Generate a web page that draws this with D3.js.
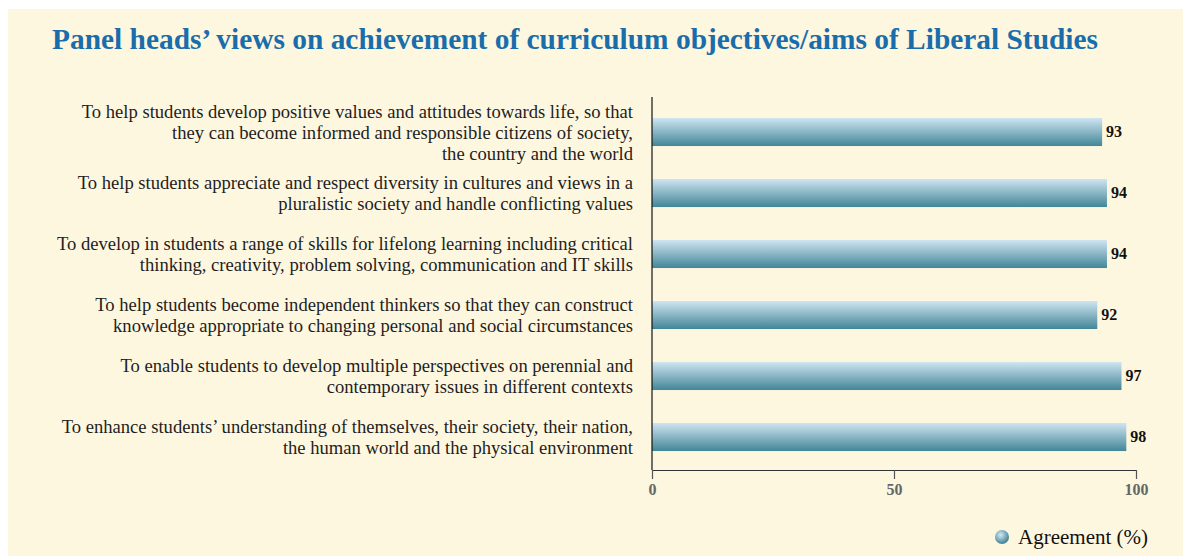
<!DOCTYPE html>
<html>
<head>
<meta charset="utf-8">
<script src="https://cdn.jsdelivr.net/npm/d3@7"></script>
<style>
  body { margin: 0; background: #ffffff; }
  svg text { font-family: "Liberation Serif", "Times New Roman", serif; }
</style>
</head>
<body>
<svg id="chartSvg" width="1183" height="556"></svg>
<script>
// chart data
const categories = [
    ["To help students develop positive values and attitudes towards life, so that",
     "they can become informed and responsible citizens of society,",
     "the country and the world"],
    ["To help students appreciate and respect diversity in cultures and views in a",
     "pluralistic society and handle conflicting values"],
    ["To develop in students a range of skills for lifelong learning including critical",
     "thinking, creativity, problem solving, communication and IT skills"],
    ["To help students become independent thinkers so that they can construct",
     "knowledge appropriate to changing personal and social circumstances"],
    ["To enable students to develop multiple perspectives on perennial and",
     "contemporary issues in different contexts"],
    ["To enhance students’ understanding of themselves, their society, their nation,",
     "the human world and the physical environment"]
];
const agreement = [93, 94, 94, 92, 97, 98];
const xTicks = [0, 50, 100];
const title = "Panel heads’ views on achievement of curriculum objectives/aims of Liberal Studies";
const legendLabel = "Agreement (%)";

const svg = d3.select("#chartSvg");
const width = +svg.attr("width");
const height = +svg.attr("height");

// cream panel
svg.append("rect")
    .attr("x", 8).attr("y", 9)
    .attr("width", width - 8).attr("height", height - 9)
    .attr("fill", "#fef7e0");

// gradients
const defs = svg.append("defs");
const grad = defs.append("linearGradient")
    .attr("id", "barGrad")
    .attr("x1", 0).attr("y1", 0).attr("x2", 0).attr("y2", 1);
grad.append("stop").attr("offset", "0%").attr("stop-color", "#cfe5f1");
grad.append("stop").attr("offset", "100%").attr("stop-color", "#428697");

const rgrad = defs.append("radialGradient")
    .attr("id", "dotGrad")
    .attr("cx", "40%").attr("cy", "35%").attr("r", "65%");
rgrad.append("stop").attr("offset", "0%").attr("stop-color", "#d4eaf4");
rgrad.append("stop").attr("offset", "100%").attr("stop-color", "#3f8196");

// title
svg.append("text")
    .attr("x", 575).attr("y", 49)
    .attr("text-anchor", "middle")
    .attr("font-size", "29.4px")
    .attr("font-weight", "bold")
    .attr("fill", "#1a6dab")
    .text(title);

// scales
const x = d3.scaleLinear()
    .domain([0, 100])
    .range([652, 1136]);

const y = d3.scaleBand()
    .domain(d3.range(categories.length))
    .range([101.5, 467.5])
    .paddingInner(0.54)
    .paddingOuter(0.27);

// bars
svg.selectAll("rect.bar")
    .data(agreement)
    .enter()
    .append("rect")
    .attr("class", "bar")
    .attr("x", x(0))
    .attr("y", (d, i) => y(i))
    .attr("width", d => x(d) - x(0))
    .attr("height", y.bandwidth())
    .attr("fill", "url(#barGrad)");

// value labels
svg.selectAll("text.value")
    .data(agreement)
    .enter()
    .append("text")
    .attr("class", "value")
    .attr("x", d => x(d) + 4)
    .attr("y", (d, i) => y(i) + y.bandwidth() / 2 - 1)
    .attr("dy", "0.35em")
    .attr("font-size", "16px")
    .attr("font-weight", "bold")
    .attr("fill", "#111")
    .text(d => d);

// category labels
const lineH = 21;
categories.forEach((lines, i) => {
    const cy = y(i) + y.bandwidth() / 2;
    const t = svg.append("text")
        .attr("text-anchor", "end")
        .attr("font-size", "18.6px")
        .attr("fill", "#1e1e1e");
    lines.forEach((line, j) => {
        t.append("tspan")
            .attr("x", 633)
            .attr("y", cy + (j - (lines.length - 1) / 2) * lineH)
            .attr("dy", "0.35em")
            .text(line);
    });
});

// y axis line
svg.append("line")
    .attr("x1", x(0)).attr("x2", x(0))
    .attr("y1", 97).attr("y2", 470)
    .attr("stroke", "#111").attr("stroke-width", 1.2);

// x axis
const xAxis = svg.append("g")
    .attr("transform", "translate(0, 470)")
    .call(d3.axisBottom(x).tickValues(xTicks).tickSize(9).tickSizeOuter(0).tickPadding(5));
xAxis.select(".domain").attr("stroke", "#333").attr("stroke-width", 1.2);
xAxis.selectAll(".tick line").attr("stroke", "#555").attr("stroke-width", 1.2);
xAxis.selectAll(".tick text")
    .attr("font-family", "Liberation Serif, serif")
    .attr("font-size", "16px")
    .attr("font-weight", "bold")
    .attr("fill", "#666");

// legend
svg.append("circle")
    .attr("cx", 1002).attr("cy", 537).attr("r", 7)
    .attr("fill", "url(#dotGrad)");
svg.append("text")
    .attr("x", 1018).attr("y", 537)
    .attr("dy", "0.35em")
    .attr("font-size", "21px")
    .attr("fill", "#111")
    .text(legendLabel);
</script>
</body>
</html>
